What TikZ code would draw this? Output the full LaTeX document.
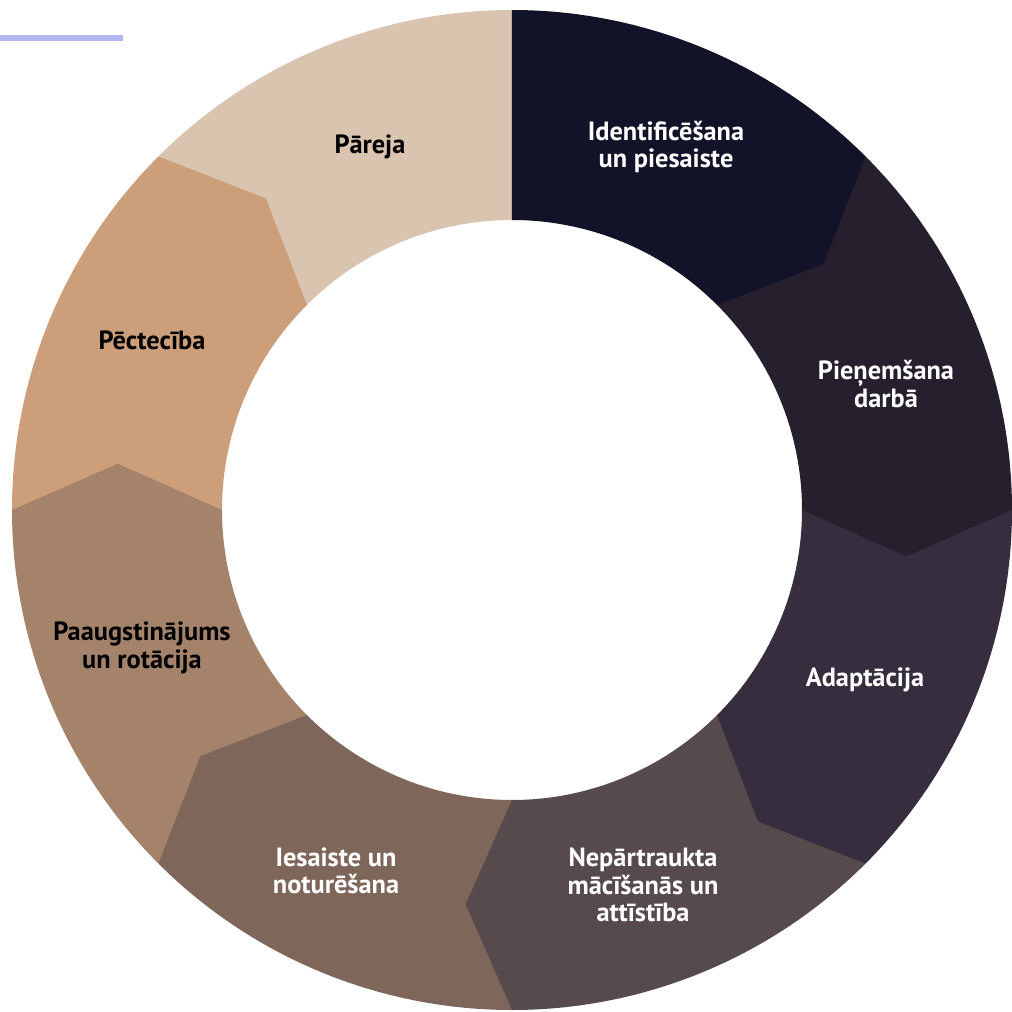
\documentclass[tikz,border=0pt]{standalone}
\usepackage{fontspec}
\setmainfont{PT Sans}
\usepackage{tikz}
\usetikzlibrary{positioning}

\definecolor{segA}{HTML}{121229}
\definecolor{segB}{HTML}{261F2E}
\definecolor{segC}{HTML}{362E3F}
\definecolor{segD}{HTML}{574A4C}
\definecolor{segE}{HTML}{7F665B}
\definecolor{segF}{HTML}{A5836B}
\definecolor{segG}{HTML}{CC9E7A}
\definecolor{segH}{HTML}{D9C4B0}
\definecolor{accent}{HTML}{B1B8F1}

\begin{document}
\begin{tikzpicture}[x=0.02cm, y=0.02cm,
    lbl/.style={align=center, font=\bfseries\fontsize{15}{15.6}\selectfont, inner sep=0},
    wlbl/.style={lbl, text=white},
    blbl/.style={lbl, text=black}
  ]
  \useasboundingbox (-512,-502) rectangle (500,510);
  % segments, last one first so every tip lies on the next segment
  \fill[segH] (135:500) arc[start angle=135, end angle=90, radius=500] -- (83.3:397) -- (90:290) arc[start angle=90, end angle=135, radius=290] -- cycle;
  \fill[segG] (180:500) arc[start angle=180, end angle=135, radius=500] -- (128.3:397) -- (135:290) arc[start angle=135, end angle=180, radius=290] -- cycle;
  \fill[segF] (225:500) arc[start angle=225, end angle=180, radius=500] -- (173.3:397) -- (180:290) arc[start angle=180, end angle=225, radius=290] -- cycle;
  \fill[segE] (270:500) arc[start angle=270, end angle=225, radius=500] -- (218.3:397) -- (225:290) arc[start angle=225, end angle=270, radius=290] -- cycle;
  \fill[segD] (315:500) arc[start angle=315, end angle=270, radius=500] -- (263.3:397) -- (270:290) arc[start angle=270, end angle=315, radius=290] -- cycle;
  \fill[segC] (360:500) arc[start angle=360, end angle=315, radius=500] -- (308.3:397) -- (315:290) arc[start angle=315, end angle=360, radius=290] -- cycle;
  \fill[segB] (45:500) arc[start angle=45, end angle=0, radius=500] -- (-6.7:397) -- (0:290) arc[start angle=0, end angle=45, radius=290] -- cycle;
  \fill[segA] (90:500) arc[start angle=90, end angle=45, radius=500] -- (38.3:397) -- (45:290) arc[start angle=45, end angle=90, radius=290] -- cycle;

  % labels
  \node[wlbl] (ident)  at (154,363)  {Identificēšana\\un piesaiste};
  \node[wlbl] (hire)   at (374,126)  {Pieņemšana\\darbā};
  \node[wlbl] (adapt)  at (353,-170) {Adaptācija};
  \node[wlbl] (learn)  at (131,-375) {Nepārtraukta\\mācīšanās un\\attīstība};
  \node[wlbl] (engage) at (-176,-361) {Iesaiste un\\noturēšana};
  \node[blbl] (promo)  at (-370,-138) {Paaugstinājums\\un rotācija};
  \node[blbl] (succ)   at (-360,170)  {Pēctecība};
  \node[blbl] (trans)  at (-142,363)  {Pāreja};

  \coordinate (barL) at (-512,472);
  \coordinate (barR) at (-389,472);
  \draw[accent, line width=3.4pt] (barL) -- (barR);
\end{tikzpicture}
\end{document}
